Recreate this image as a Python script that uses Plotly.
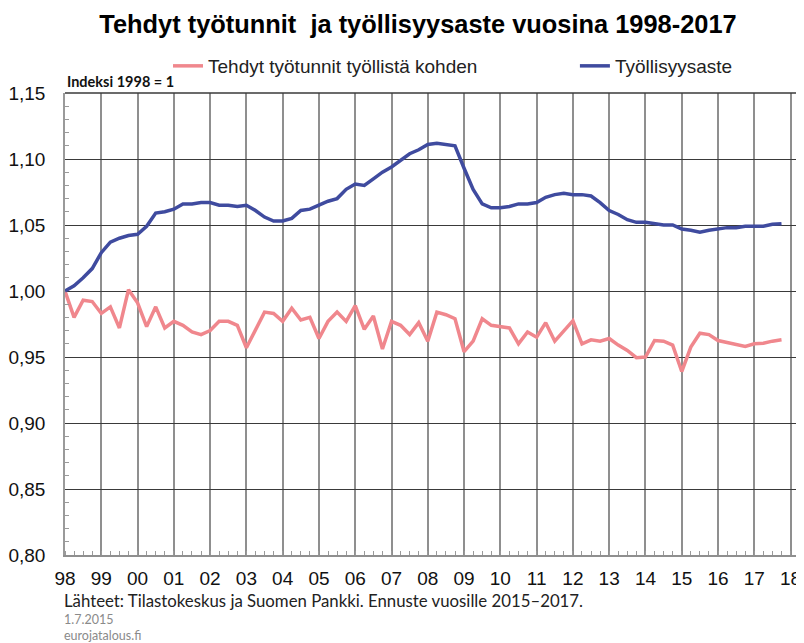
import plotly.graph_objects as go

start_year = 1998
years_labels = ["98", "99", "00", "01", "02", "03", "04", "05", "06", "07",
                "08", "09", "10", "11", "12", "13", "14", "15", "16", "17", "18"]

# Quarterly values 1998Q1 .. 2017Q4, index 1998 = 1
tyotunnit = [
    1.000, 0.980, 0.993, 0.992,
    0.983, 0.988, 0.972, 1.001,
    0.991, 0.973, 0.988, 0.972,
    0.977, 0.974, 0.969, 0.967,
    0.970, 0.977, 0.977, 0.974,
    0.957, 0.971, 0.984, 0.983,
    0.977, 0.987, 0.978, 0.980,
    0.964, 0.977, 0.984, 0.977,
    0.989, 0.971, 0.981, 0.956,
    0.977, 0.974, 0.967, 0.976,
    0.962, 0.984, 0.982, 0.979,
    0.954, 0.962, 0.979, 0.974,
    0.973, 0.972, 0.960, 0.969,
    0.965, 0.976, 0.962, 0.970,
    0.9775, 0.960, 0.963, 0.962,
    0.964, 0.959, 0.955, 0.9495,
    0.950, 0.9625, 0.962, 0.959,
    0.939, 0.9575, 0.968, 0.967,
    0.9625, 0.961, 0.9595, 0.958,
    0.960, 0.9605, 0.962, 0.963,
]

tyollisyysaste = [
    1.000, 1.004, 1.010, 1.017,
    1.029, 1.037, 1.040, 1.042,
    1.043, 1.049, 1.059, 1.060,
    1.062, 1.066, 1.066, 1.067,
    1.067, 1.065, 1.065, 1.064,
    1.065, 1.061, 1.056, 1.053,
    1.053, 1.055, 1.061, 1.062,
    1.065, 1.068, 1.070, 1.077,
    1.081, 1.080, 1.085, 1.090,
    1.094, 1.099, 1.104, 1.107,
    1.111, 1.112, 1.111, 1.110,
    1.093, 1.077, 1.066, 1.063,
    1.063, 1.064, 1.066, 1.066,
    1.067, 1.071, 1.073, 1.074,
    1.073, 1.073, 1.072, 1.067,
    1.061, 1.058, 1.054, 1.052,
    1.052, 1.051, 1.050, 1.050,
    1.047, 1.046, 1.0445, 1.046,
    1.047, 1.048, 1.048, 1.049,
    1.049, 1.049, 1.0505, 1.051,
]

x_vals = [start_year + i / 4 for i in range(len(tyotunnit))]
tick_vals = [start_year + i for i in range(len(years_labels))]

fig = go.Figure()
fig.add_trace(go.Scatter(
    x=x_vals, y=tyotunnit, mode="lines",
    name="Tehdyt työtunnit työllistä kohden",
    line=dict(color="#F0878D", width=3.5),
    legend="legend",
))
fig.add_trace(go.Scatter(
    x=x_vals, y=tyollisyysaste, mode="lines",
    name="Työllisyysaste",
    line=dict(color="#3F4B9F", width=3.5),
    legend="legend2",
))

# page has an 8px body margin, so the figure is sized/offset to compensate
W, H = 796, 635
fig.update_layout(
    width=W, height=H,
    margin=dict(l=57, r=0, t=85, b=88, autoexpand=False),
    paper_bgcolor="white", plot_bgcolor="white",
    separators=", ",
    font=dict(family="Liberation Sans, Arial, sans-serif", color="#111"),
    title=dict(
        text="<b>Tehdyt työtunnit  ja työllisyysaste vuosina 1998-2017</b>",
        x=410 / W, xanchor="center", xref="container",
        y=1 - 16 / H, yanchor="middle", yref="container",
        font=dict(size=25.4, color="#000"),
    ),
    legend=dict(
        orientation="h", x=0.1394, xanchor="left", xref="paper",
        y=1 - 58 / H, yanchor="middle", yref="container",
        font=dict(size=19, color="#222"), bgcolor="rgba(0,0,0,0)",
    ),
    legend2=dict(
        orientation="h", x=0.690, xanchor="left", xref="paper",
        y=1 - 58 / H, yanchor="middle", yref="container",
        font=dict(size=19, color="#222"), bgcolor="rgba(0,0,0,0)",
    ),
    showlegend=True,
)

fig.update_xaxes(
    range=[1998, 2018.37], automargin=False,
    tickvals=tick_vals, ticktext=years_labels,
    ticks="", showgrid=True, gridcolor="#8f8f8f", gridwidth=1.5,
    showline=True, linecolor="#8f8f8f", linewidth=1.5,
    tickfont=dict(size=19, color="#111"),
    ticklabelstandoff=5,
    minor=dict(dtick=0.25, tick0=1998, ticks="inside", ticklen=4,
               tickcolor="#9a9a9a", showgrid=False),
    zeroline=False,
)
fig.update_yaxes(
    range=[0.80, 1.15], dtick=0.05, tick0=0.80, tickformat=".2f",
    automargin=False,
    ticks="", showgrid=True, gridcolor="#3a3a3a", gridwidth=1,
    showline=True, linecolor="#9a9a9a", linewidth=1.5,
    tickfont=dict(size=19, color="#111"),
    ticklabelstandoff=14,
    minor=dict(dtick=0.01, tick0=0.80, ticks="inside", ticklen=4,
               tickcolor="#9a9a9a", showgrid=False),
    zeroline=False,
)

# top border of plot area
fig.add_shape(type="line", xref="paper", yref="paper", x0=0, x1=1, y0=1, y1=1,
              line=dict(color="#3a3a3a", width=1.5))

fig.add_annotation(text="<b>Indeksi 1998 = 1</b>", xref="paper", yref="paper",
                   x=0.0, y=1.0, xanchor="left", yanchor="bottom", yshift=1,
                   showarrow=False, font=dict(family="Lato, sans-serif", size=14.5, color="#111"))
fig.add_annotation(text="Lähteet: Tilastokeskus ja Suomen Pankki. Ennuste vuosille 2015–2017.",
                   xref="paper", yref="paper", x=0.0, y=-0.099, xanchor="left", yanchor="middle",
                   xshift=-2, showarrow=False, borderpad=0,
                   font=dict(family="Lato, sans-serif", size=16.8, color="#222"))
fig.add_annotation(text="1.7.2015", xref="paper", yref="paper", x=0.0, y=-0.140,
                   xanchor="left", yanchor="middle", xshift=-2, showarrow=False, borderpad=0,
                   font=dict(family="Lato, sans-serif", size=12.5, color="#8a8a8a"))
fig.add_annotation(text="eurojatalous.fi", xref="paper", yref="paper", x=0.0, y=-0.175,
                   xanchor="left", yanchor="middle", xshift=-2, showarrow=False, borderpad=0,
                   font=dict(family="Lato, sans-serif", size=12.5, color="#8a8a8a"))

fig.write_html("out.html")
